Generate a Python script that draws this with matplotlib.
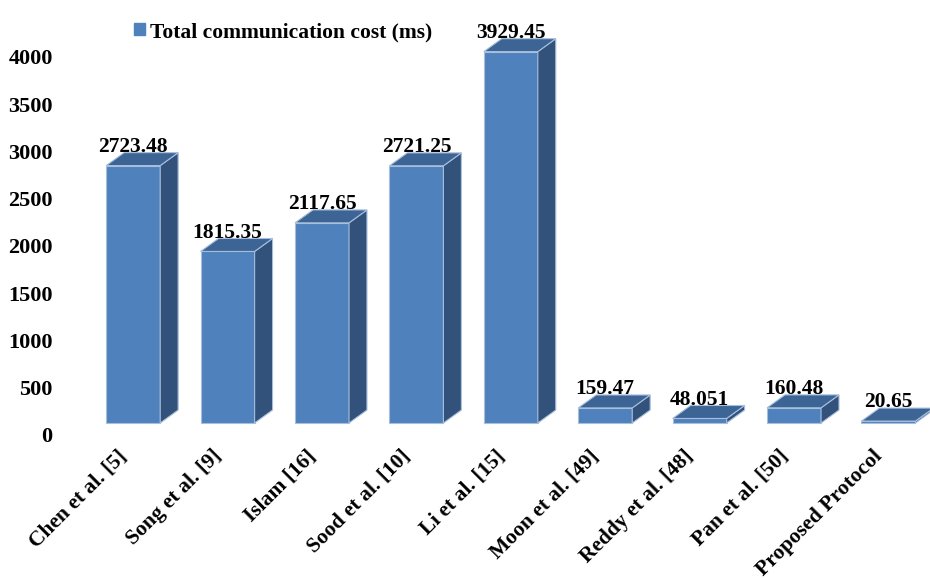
import numpy as np
from matplotlib import pyplot as plt
from matplotlib.patches import Polygon, Patch
from matplotlib.transforms import ScaledTranslation

plt.rcParams['font.family'] = ['Liberation Serif', 'DejaVu Serif']
plt.rcParams['font.weight'] = 'bold'

schemes = ["Chen et al. [5]", "Song et al. [9]", "Islam [16]", "Sood et al. [10]",
           "Li et al. [15]", "Moon et al. [49]", "Reddy et al. [48]", "Pan et al. [50]",
           "Proposed Protocol"]
cost = [2723.48, 1815.35, 2117.65, 2721.25, 3929.45, 159.47, 48.051, 160.48, 20.65]
cost_text = ["2723.48", "1815.35", "2117.65", "2721.25", "3929.45", "159.47", "48.051", "160.48", "20.65"]
yticks = [0, 500, 1000, 1500, 2000, 2500, 3000, 3500, 4000]

front = '#4F81BD'
top = '#3C6494'
side = '#32527C'
edge = '#A7BEDC'

# fake 3d look
w = 0.572
dx = 0.19
dy = 137
base = 127

fs = 15.5

fig = plt.figure(figsize=(9.3, 5.78), dpi=100)
ax = fig.add_axes([86/930, 143/578, 844/930, 425/578])

x = np.arange(len(cost))
ax.bar(x, cost, width=w, bottom=base, color=front, edgecolor=edge, linewidth=0.8, zorder=2)

for i, v in enumerate(cost):
    x0 = x[i] - w/2
    x1 = x[i] + w/2
    sidep = Polygon([(x1, base), (x1+dx, base+dy), (x1+dx, base+v+dy), (x1, base+v)],
                    closed=True, facecolor=side, edgecolor=edge, linewidth=0.8, zorder=2)
    topp = Polygon([(x0, base+v), (x1, base+v), (x1+dx, base+v+dy), (x0+dx, base+v+dy)],
                   closed=True, facecolor=top, edgecolor=edge, linewidth=0.8, zorder=3)
    ax.add_patch(sidep)
    ax.add_patch(topp)
    ax.text(x[i], base+v+dy+8, cost_text[i], ha='center', va='baseline',
            fontsize=fs, fontweight='bold')

ax.set_xlim(-0.5, 8.44)
ax.set_ylim(0, 4497)
ax.set_yticks(yticks)
ax.set_yticklabels([str(t) for t in yticks], fontsize=16, fontweight='bold')
ax.set_xticks(x)
ax.set_xticklabels(schemes, rotation=45, ha='right', rotation_mode='anchor',
                   fontsize=fs, fontweight='bold')
ax.tick_params(axis='both', length=0)
ax.tick_params(axis='y', pad=24)
ax.tick_params(axis='x', pad=8)
shift = ScaledTranslation(-16/100, 0, fig.dpi_scale_trans)
for lab in ax.get_xticklabels():
    lab.set_transform(lab.get_transform() + shift)
for s in ax.spines.values():
    s.set_visible(False)

fig.legend(handles=[Patch(color=front, label='Total communication cost (ms)')],
           loc='center left', bbox_to_anchor=(134/930, 1-32/578), frameon=False,
           handlelength=0.5, handleheight=0.5, handletextpad=0.25, borderpad=0,
           borderaxespad=0, prop={'size': fs, 'weight': 'bold'})

fig.savefig('out.png', dpi=100)
